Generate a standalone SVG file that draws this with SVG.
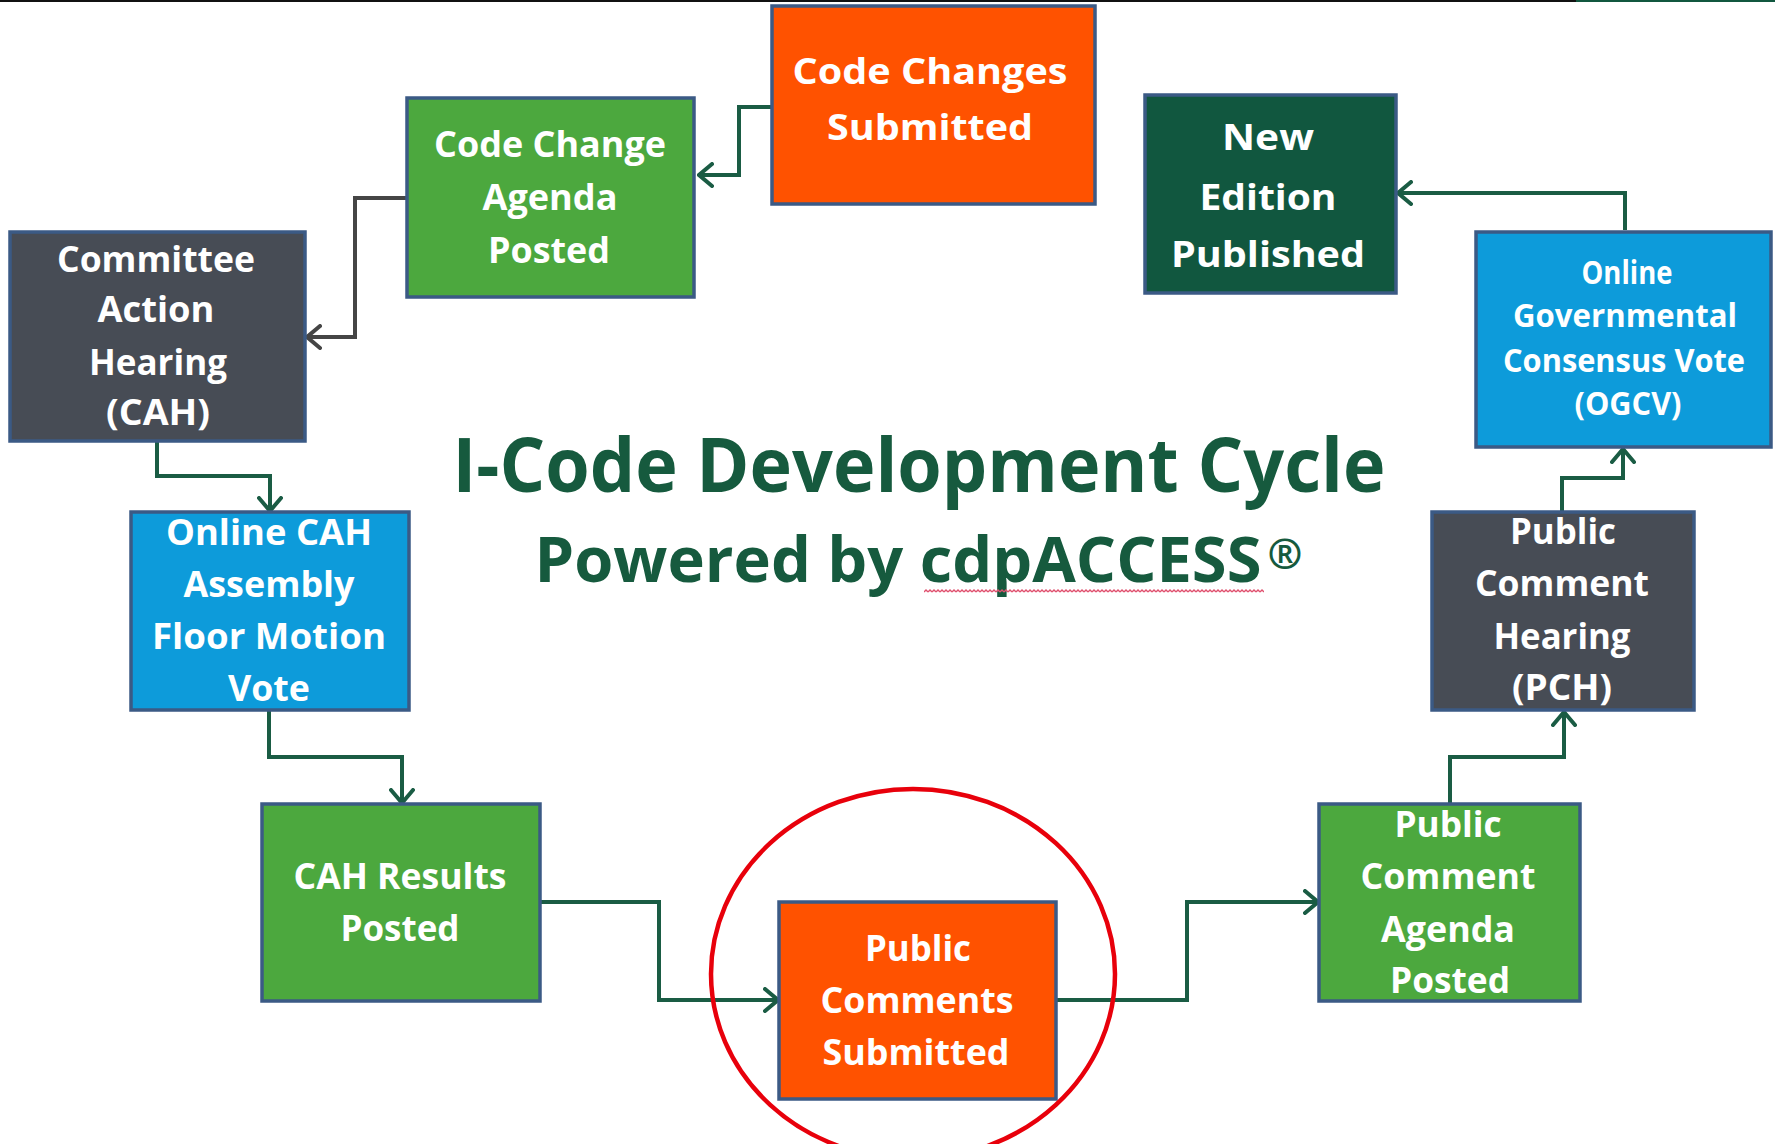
<svg xmlns="http://www.w3.org/2000/svg" width="1775" height="1144" viewBox="0 0 1775 1144">
<defs>
<style>
.box{stroke:#3B5A85;stroke-width:3.5}
.or{fill:#FF5200}.gr{fill:#4CA83E}.dg{fill:#474C55}.bl{fill:#0D9BDA}.dk{fill:#11573F}
.t{font-family:"Open Sans","Liberation Sans",sans-serif;font-weight:bold;fill:#FFFFFF;font-size:35px;text-anchor:middle}
.s{font-size:32px}
.title{font-family:"Open Sans","Liberation Sans",sans-serif;font-weight:bold;fill:#165A3E;text-anchor:middle}
.c{fill:none;stroke:#1A5C44;stroke-width:4;marker-end:url(#ah)}
.cg{fill:none;stroke:#454545;stroke-width:4;marker-end:url(#ahg)}
</style>
<marker id="ah" viewBox="0 0 17 26" refX="15" refY="13" markerWidth="17" markerHeight="26" markerUnits="userSpaceOnUse" orient="auto">
<path d="M2,2 L15,13 L2,24" fill="none" stroke="#1A5C44" stroke-width="4" stroke-linecap="round"/>
</marker>
<marker id="ahg" viewBox="0 0 17 26" refX="15" refY="13" markerWidth="17" markerHeight="26" markerUnits="userSpaceOnUse" orient="auto">
<path d="M2,2 L15,13 L2,24" fill="none" stroke="#454545" stroke-width="4" stroke-linecap="round"/>
</marker>
<pattern id="zz" x="0" y="589" width="4" height="4" patternUnits="userSpaceOnUse">
<path d="M0,3 L2,1 L4,3" fill="none" stroke="#E0506E" stroke-width="1.4"/>
</pattern>
</defs>
<rect x="0" y="0" width="1775" height="1144" fill="#FFFFFF"/>
<rect x="0" y="0" width="1576" height="2" fill="#111111"/>
<rect x="1576" y="0" width="199" height="2" fill="#11573F"/>

<g id="connectors">
<path class="c" d="M772,107 H739 V175 H699"/>
<path class="cg" d="M407,198 H355 V337 H307"/>
<path class="c" d="M157,441 V476 H270 V511"/>
<path class="c" d="M269,710 V757 H402 V803"/>
<path class="c" d="M540,902 H659 V1000 H778"/>
<path class="c" d="M1056,1000 H1187 V902 H1318"/>
<path class="c" d="M1450,804 V757 H1564 V712"/>
<path class="c" d="M1562,511 V478 H1623 V449"/>
<path class="c" d="M1625,230 V193 H1398"/>
</g>

<g id="code-changes-submitted">
<rect class="box or" x="772" y="6" width="323" height="198"/>
<text class="t" x="930" y="84" textLength="275" lengthAdjust="spacingAndGlyphs">Code Changes</text>
<text class="t" x="930" y="140" textLength="206" lengthAdjust="spacingAndGlyphs">Submitted</text>
</g>

<g id="code-change-agenda-posted">
<rect class="box gr" x="407" y="98" width="287" height="199"/>
<text class="t" x="550" y="157" textLength="232" lengthAdjust="spacingAndGlyphs">Code Change</text>
<text class="t" x="550" y="210" textLength="135" lengthAdjust="spacingAndGlyphs">Agenda</text>
<text class="t" x="549" y="263" textLength="122" lengthAdjust="spacingAndGlyphs">Posted</text>
</g>

<g id="cah">
<rect class="box dg" x="10" y="232" width="295" height="209"/>
<text class="t" x="156" y="272" textLength="198" lengthAdjust="spacingAndGlyphs">Committee</text>
<text class="t" x="156" y="322" textLength="117" lengthAdjust="spacingAndGlyphs">Action</text>
<text class="t" x="158" y="375" textLength="138" lengthAdjust="spacingAndGlyphs">Hearing</text>
<text class="t" x="158" y="425" textLength="104" lengthAdjust="spacingAndGlyphs">(CAH)</text>
</g>

<g id="online-cah">
<rect class="box bl" x="131" y="512" width="278" height="198"/>
<text class="t" x="269" y="545" textLength="206" lengthAdjust="spacingAndGlyphs">Online CAH</text>
<text class="t" x="269" y="597" textLength="171" lengthAdjust="spacingAndGlyphs">Assembly</text>
<text class="t" x="269" y="649" textLength="234" lengthAdjust="spacingAndGlyphs">Floor Motion</text>
<text class="t" x="269" y="701" textLength="82" lengthAdjust="spacingAndGlyphs">Vote</text>
</g>

<g id="cah-results-posted">
<rect class="box gr" x="262" y="804" width="278" height="197"/>
<text class="t" x="400" y="889" textLength="213" lengthAdjust="spacingAndGlyphs">CAH Results</text>
<text class="t" x="400" y="941" textLength="119" lengthAdjust="spacingAndGlyphs">Posted</text>
</g>

<g id="public-comments-submitted">
<rect class="box or" x="779" y="902" width="277" height="197"/>
<text class="t" x="918" y="961" textLength="106" lengthAdjust="spacingAndGlyphs">Public</text>
<text class="t" x="917" y="1013" textLength="193" lengthAdjust="spacingAndGlyphs">Comments</text>
<text class="t" x="916" y="1065" textLength="187" lengthAdjust="spacingAndGlyphs">Submitted</text>
</g>

<g id="public-comment-agenda-posted">
<rect class="box gr" x="1319" y="804" width="261" height="197"/>
<text class="t" x="1448" y="837" textLength="107" lengthAdjust="spacingAndGlyphs">Public</text>
<text class="t" x="1448" y="889" textLength="175" lengthAdjust="spacingAndGlyphs">Comment</text>
<text class="t" x="1448" y="942" textLength="134" lengthAdjust="spacingAndGlyphs">Agenda</text>
<text class="t" x="1450" y="993" textLength="120" lengthAdjust="spacingAndGlyphs">Posted</text>
</g>

<g id="pch">
<rect class="box dg" x="1432" y="512" width="262" height="198"/>
<text class="t" x="1563" y="544" textLength="106" lengthAdjust="spacingAndGlyphs">Public</text>
<text class="t" x="1562" y="596" textLength="174" lengthAdjust="spacingAndGlyphs">Comment</text>
<text class="t" x="1562" y="649" textLength="137" lengthAdjust="spacingAndGlyphs">Hearing</text>
<text class="t" x="1562" y="700" textLength="100" lengthAdjust="spacingAndGlyphs">(PCH)</text>
</g>

<g id="ogcv">
<rect class="box bl" x="1476" y="232" width="295" height="215"/>
<text class="t s" x="1627" y="284" textLength="91" lengthAdjust="spacingAndGlyphs">Online</text>
<text class="t s" x="1625" y="327" textLength="224" lengthAdjust="spacingAndGlyphs">Governmental</text>
<text class="t s" x="1624" y="372" textLength="242" lengthAdjust="spacingAndGlyphs">Consensus Vote</text>
<text class="t s" x="1628" y="415" textLength="107" lengthAdjust="spacingAndGlyphs">(OGCV)</text>
</g>

<g id="new-edition-published">
<rect class="box dk" x="1145" y="95" width="251" height="198"/>
<text class="t" x="1268" y="150" textLength="92" lengthAdjust="spacingAndGlyphs">New</text>
<text class="t" x="1268" y="210" textLength="137" lengthAdjust="spacingAndGlyphs">Edition</text>
<text class="t" x="1268" y="267" textLength="194" lengthAdjust="spacingAndGlyphs">Published</text>
</g>

<g id="title">
<text class="title" x="919" y="492" font-size="76" textLength="933" lengthAdjust="spacingAndGlyphs">I-Code Development Cycle</text>
<text class="title" x="898" y="582" font-size="62" textLength="727" lengthAdjust="spacingAndGlyphs">Powered by cdpACCESS</text>
<text class="title" x="1285" y="569" font-size="42">®</text>
<rect x="924" y="589" width="340" height="4" fill="url(#zz)"/>
</g>

<ellipse cx="913" cy="974" rx="202" ry="185" fill="none" stroke="#E8000B" stroke-width="4.5"/>
</svg>
